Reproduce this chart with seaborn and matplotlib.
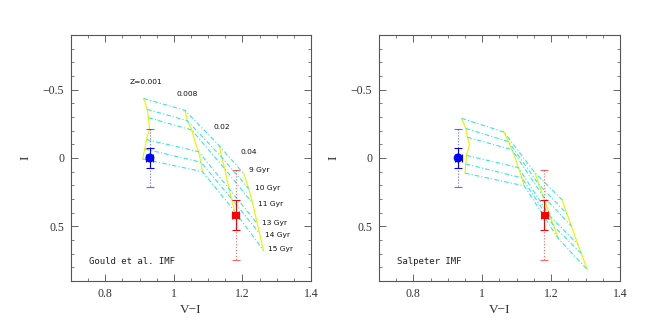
import matplotlib
matplotlib.use("Agg")
import matplotlib.pyplot as plt
from matplotlib.ticker import MultipleLocator, FuncFormatter
import seaborn as sns
import pandas as pd
import numpy as np

# model grid: rows are metallicities, columns are ages
metals = ["0.001", "0.008", "0.02", "0.04"]
ages = [9, 10, 11, 12, 13, 14, 15]
iso_ages = [9, 10, 11, 13, 14, 15]

gould_vi = [[0.912, 0.922, 0.926, 0.929, 0.920, 0.915, 0.909],
            [1.032, 1.039, 1.052, 1.061, 1.072, 1.079, 1.083],
            [1.132, 1.140, 1.148, 1.154, 1.161, 1.168, 1.177],
            [1.204, 1.218, 1.230, 1.236, 1.243, 1.250, 1.261]]
gould_i = [[-0.435, -0.356, -0.295, -0.210, -0.135, -0.066, 0.007],
           [-0.349, -0.273, -0.205, -0.125, -0.046, 0.031, 0.100],
           [-0.091, -0.004, 0.078, 0.145, 0.226, 0.298, 0.389],
           [0.115, 0.225, 0.332, 0.400, 0.479, 0.553, 0.676]]

salp_vi = [[0.940, 0.952, 0.957, 0.963, 0.954, 0.952, 0.950],
           [1.063, 1.076, 1.086, 1.095, 1.105, 1.115, 1.122],
           [1.153, 1.165, 1.176, 1.186, 1.197, 1.208, 1.221],
           [1.232, 1.246, 1.259, 1.268, 1.278, 1.288, 1.305]]
salp_i = [[-0.290, -0.216, -0.152, -0.098, -0.019, 0.044, 0.111],
          [-0.190, -0.120, -0.061, -0.002, 0.071, 0.145, 0.204],
          [0.108, 0.196, 0.277, 0.345, 0.427, 0.500, 0.591],
          [0.307, 0.409, 0.499, 0.564, 0.633, 0.700, 0.816]]

# observed points
obs_vi = [0.93, 1.18]
obs_i = [0.0, 0.42]
obs_vi_err = [0.01, 0.01]
obs_i_err = [0.07, 0.11]
obs_i_lo_sys = [0.21, 0.33]
obs_i_hi_sys = [0.21, 0.33]
obs_colors = ["#0000ff", "#ff0000"]

# label positions (Gould panel only)
z_label_vi = [0.918, 1.040, 1.141, 1.219]
z_label_i = [-0.553, -0.466, -0.226, -0.044]
z_label_txt = ["Z=0.001", "0.008", "0.02", "0.04"]
age_label_vi = [1.220, 1.236, 1.246, 1.256, 1.266, 1.275]
age_label_i = [0.091, 0.220, 0.336, 0.478, 0.562, 0.668]
age_label_txt = ["9 Gyr", "10 Gyr", "11 Gyr", "13 Gyr", "14 Gyr", "15 Gyr"]

panel_names = ["Gould et al. IMF", "Salpeter IMF"]


def grid_frame(vi, ii):
    rows = []
    for zi, z in enumerate(metals):
        for ai, a in enumerate(ages):
            rows.append({"Z": z, "zi": zi, "age": a, "vi": vi[zi][ai], "I": ii[zi][ai]})
    return pd.DataFrame(rows)


sns.set_style("ticks")
plt.rcParams["font.family"] = ["Liberation Serif", "DejaVu Serif"]
plt.rcParams["axes.edgecolor"] = "#555555"
plt.rcParams["axes.linewidth"] = 0.8

fig = plt.figure(figsize=(6.54, 3.28), dpi=100)
axes = [fig.add_axes([0.1086, 0.1433, 0.367, 0.750]),
        fig.add_axes([0.5795, 0.1433, 0.3685, 0.750])]

grids = [grid_frame(gould_vi, gould_i), grid_frame(salp_vi, salp_i)]

fmt = FuncFormatter(lambda v, p: ("%g" % round(v, 3)).replace("-", "\u2212"))

for k, ax in enumerate(axes):
    df = grids[k]
    # isometallicity lines
    sns.lineplot(data=df.sort_values(["zi", "age"]), x="vi", y="I", units="Z",
                 estimator=None, sort=False, color="#f2f200", lw=0.9, ax=ax)
    # isochrones
    iso = df[df.age.isin(iso_ages)].sort_values(["age", "zi"])
    sns.lineplot(data=iso, x="vi", y="I", units="age", estimator=None, sort=False,
                 color="#33e6e6", lw=0.8, dashes=False, ax=ax)
    for ln in ax.lines[4:]:
        ln.set_dashes((4, 2, 1, 2))

    for j in range(2):
        eb = ax.errorbar(obs_vi[j], obs_i[j],
                         yerr=[[obs_i_lo_sys[j]], [obs_i_hi_sys[j]]],
                         fmt="none", ecolor=obs_colors[j], elinewidth=0.8,
                         capsize=3, capthick=0.8, alpha=0.6)
        eb[2][0].set_linestyle(":")
        for c in eb[1]:
            c.set_linestyle(":")
        ax.errorbar(obs_vi[j], obs_i[j], xerr=obs_vi_err[j], yerr=obs_i_err[j],
                    fmt="none", ecolor=obs_colors[j], elinewidth=0.8,
                    capsize=3, capthick=0.8)
    sns.scatterplot(x=obs_vi[:1], y=obs_i[:1], color=obs_colors[0], marker="o",
                    s=42, edgecolor="none", ax=ax, zorder=5)
    sns.scatterplot(x=obs_vi[1:], y=obs_i[1:], color=obs_colors[1], marker="s",
                    s=28, edgecolor="none", ax=ax, zorder=5)

    ax.set_xlim(0.7, 1.4)
    ax.set_ylim(0.9, -0.9)
    ax.xaxis.set_major_locator(MultipleLocator(0.2))
    ax.xaxis.set_minor_locator(MultipleLocator(0.05))
    ax.yaxis.set_major_locator(MultipleLocator(0.5))
    ax.yaxis.set_minor_locator(MultipleLocator(0.1))
    ax.xaxis.set_major_formatter(fmt)
    ax.yaxis.set_major_formatter(fmt)
    ax.tick_params(which="both", direction="in", top=True, right=True,
                   color="#666666", labelsize=8.5, labelcolor="#333333", pad=5)
    ax.tick_params(which="major", length=5, width=0.7)
    ax.tick_params(which="minor", length=2.5, width=0.6)
    ax.set_xlabel("V\u2212I", fontsize=9.5, color="#333333", labelpad=3)
    ax.set_ylabel("I", fontsize=9.5, color="#333333", labelpad=8)

    ax.text(0.752, 0.757, panel_names[k], fontsize=6.5, color="#222222",
            family=["DejaVu Sans Mono"], ha="left", va="center")

ax = axes[0]
for t, x, y in zip(z_label_txt, z_label_vi, z_label_i):
    ax.text(x, y, t, fontsize=5.4, ha="center", va="center", color="#111111",
            family=["DejaVu Sans"])
for t, x, y in zip(age_label_txt, age_label_vi, age_label_i):
    ax.text(x, y, t, fontsize=5.4, ha="left", va="center", color="#111111",
            family=["DejaVu Sans"])

fig.savefig("out.png", dpi=100, facecolor="white")
